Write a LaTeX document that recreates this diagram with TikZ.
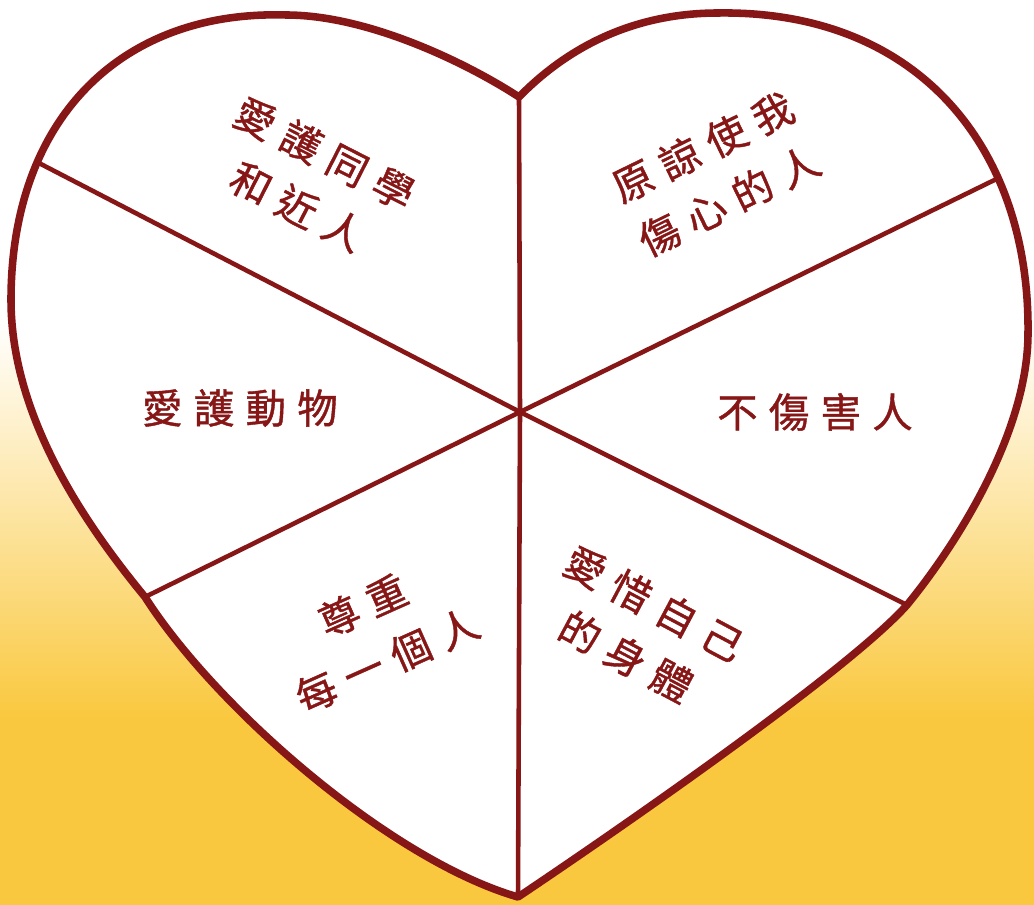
\documentclass[tikz,border=0pt]{standalone}
\usepackage{fontspec}
\newfontfamily\cjk[LetterSpace=28, FakeBold=1]{Noto Sans CJK TC}
\definecolor{heartred}{RGB}{135,22,22}
\definecolor{bgyellow}{RGB}{250,200,62}
\tikzset{
  outline/.style={draw=heartred, fill=white, line width=4.3pt, line join=round},
  spoke/.style={draw=heartred, line width=2.6pt},
  wish/.style={text=heartred, font=\cjk\fontsize{23}{34}\selectfont, align=center, inner sep=0pt}
}
\begin{document}
\begin{tikzpicture}[x=0.02cm, y=-0.02cm]
        \useasboundingbox (0,0) rectangle (1034,905);
        % background
        \fill [white] (0,0) rectangle (1034,320);
        \shade [top color=white, bottom color=bgyellow] (0,320) rectangle (1034,720);
        \fill [bgyellow] (0,720) rectangle (1034,905);
        % spoke ends
        \coordinate (c) at (520,412);
        \coordinate (dip) at (519,97);
        \coordinate (tip) at (518,897);
        \coordinate (ll) at (145,597);
        \coordinate (lr) at (907,605);
        % heart
        \path [outline] (dip) .. controls (470,65) and (370,15) .. (286,15)
          .. controls (120,10) and (11,120) .. (11,300)
          .. controls (11,420) and (90,530) .. (ll)
          .. controls (215,707) and (390,860) .. (tip)
          .. controls (554,873) and (840,680) .. (lr)
          .. controls (960,540) and (1028,430) .. (1028,333)
          .. controls (1030,150) and (920,10) .. (718,13)
          .. controls (630,13) and (565,50) .. (dip) -- cycle;
        \path (11,300) .. controls (11,120) and (120,10) .. coordinate[pos=0.29] (ul) (286,15);
        \path (1028,333) .. controls (1030,150) and (920,10) .. coordinate[pos=0.31] (ur) (718,13);
        \foreach \e in {dip,tip,ul,ur,ll,lr}{
          \draw [spoke] (c) -- (\e);
        }
        % labels
        \node [wish, rotate=-27] (tongxue) at (311,180) {愛護同學\\和近人};
        \node [wish, rotate=26] (yuanliang) at (716,174) {原諒使我\\傷心的人};
        \node [wish] (dongwu) at (240,408) {愛護動物};
        \node [wish] (shanghai) at (815,412) {不傷害人};
        \node [wish, rotate=24] (zunzhong) at (375,633) {尊重\\每一個人};
        \node [wish, rotate=-28] (aixi) at (640,630) {愛惜自己\\的身體};
      \end{tikzpicture}
\end{document}
